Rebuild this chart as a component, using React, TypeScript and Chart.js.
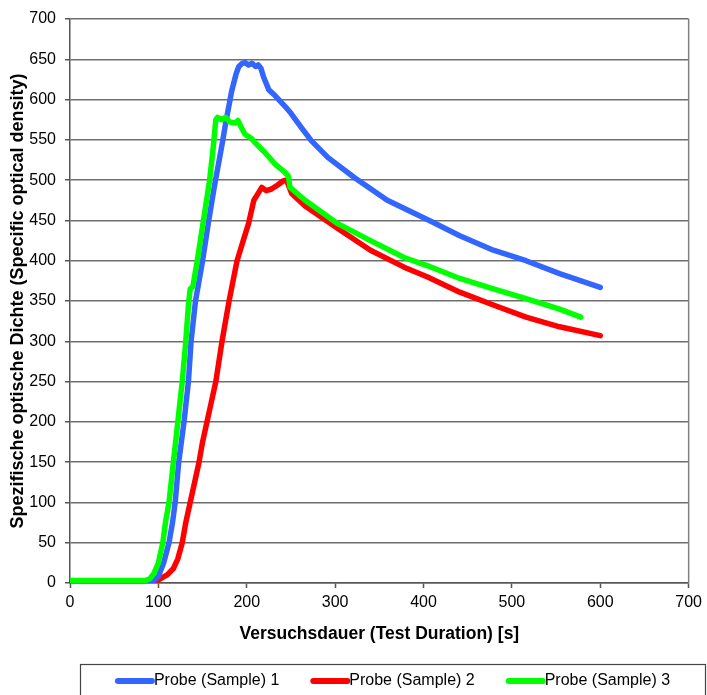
import React, { useEffect, useRef } from "react";
import { Chart, registerables } from "chart.js";

Chart.register(...registerables);

const FONT = "'Liberation Sans', Arial, Helvetica, sans-serif";

// Series labels
const seriesLabels = ["Probe (Sample) 1", "Probe (Sample) 2", "Probe (Sample) 3"];
const seriesColors = ["#3366FF", "#FF0000", "#00FF00"];

// Probe (Sample) 1
const s1Time = [0, 30, 60, 90, 95, 100, 106, 112, 116, 119, 123, 129, 134, 137, 142, 150, 157, 163, 168, 173, 176, 183, 188, 191, 195, 198, 202, 206, 210, 213, 216, 219, 225, 232, 243, 250, 262, 273, 292, 322, 359, 410, 441, 479, 516, 554, 600];
const s1Value = [2, 2, 2, 2, 3, 8, 25, 50, 75, 100, 150, 200, 250, 300, 350, 400, 450, 490, 520, 550, 570, 611, 632, 641, 645, 646, 643, 645, 641, 643, 639, 628, 612, 605, 592, 583, 565, 549, 528, 503, 475, 448, 431, 413, 400, 384, 367];

// Probe (Sample) 2
const s2Time = [0, 30, 60, 90, 96, 102, 110, 117, 122, 127, 131, 136, 141, 146, 150, 155, 160, 165, 172, 180, 189, 196, 202, 208, 212, 217, 222, 228, 235, 241, 245, 251, 266, 303, 340, 378, 404, 441, 479, 516, 554, 600];
const s2Value = [2, 2, 2, 1, 2, 5, 10, 18, 30, 50, 75, 100, 125, 150, 175, 200, 225, 250, 300, 350, 400, 425, 446, 475, 482, 491, 487, 489, 494, 499, 500, 483, 468, 440, 413, 392, 380, 361, 345, 330, 318, 307];

// Probe (Sample) 3
const s3Time = [0, 30, 60, 85, 90, 95, 100, 105, 108, 112, 117, 122, 127, 131, 134, 136, 139, 144, 151, 158, 162, 165, 167, 172, 176, 181, 187, 190, 194, 198, 205, 210, 220, 232, 243, 247, 249, 266, 303, 340, 378, 404, 441, 479, 516, 554, 578];
const s3Value = [3, 3, 3, 3, 5, 12, 25, 50, 75, 100, 150, 200, 250, 300, 345, 365, 368, 400, 450, 500, 540, 575, 578, 575, 578, 572, 571, 574, 565, 557, 552, 546, 535, 520, 510, 505, 491, 475, 446, 425, 404, 394, 378, 365, 353, 340, 330];

// Axes
const xMin = 0;
const xMax = 700;
const xStep = 100;
const yMin = 0;
const yMax = 700;
const yStep = 50;
const xTitle = "Versuchsdauer (Test Duration) [s]";
const yTitle = "Spezifische optische Dichte (Specific optical density)";

const toPoints = (t: number[], v: number[]) => t.map((x, i) => ({ x, y: v[i] }));

export default function App() {
  const ref = useRef<HTMLCanvasElement>(null);

  useEffect(() => {
    if (!ref.current) return;

    const framePlugin = {
      id: "frameRight",
      beforeDatasetsDraw(chart: any) {
        const { ctx, chartArea } = chart;
        ctx.save();
        ctx.strokeStyle = "#808080";
        ctx.lineWidth = 1.5;
        ctx.beginPath();
        ctx.moveTo(chartArea.right, chartArea.top);
        ctx.lineTo(chartArea.right, chartArea.bottom);
        ctx.stroke();
        ctx.restore();
      },
    };

    const legendPlugin = {
      id: "boxLegend",
      afterDraw(chart: any) {
        const c = chart.ctx as CanvasRenderingContext2D;
        c.save();
        const boxL = 80;
        const boxT = 664;
        const boxR = 705;
        const boxB = 720;
        c.strokeStyle = "#444";
        c.lineWidth = 1.2;
        c.strokeRect(boxL + 0.5, boxT + 0.5, boxR - boxL, boxB - boxT);
        c.font = `16px ${FONT}`;
        const lineLen = 39;
        const gap = 31;
        const items = chart.data.datasets.map((ds: any) => ({
          label: ds.label as string,
          color: ds.borderColor as string,
          w: lineLen + c.measureText(ds.label).width,
        }));
        const total = items.reduce((a: number, it: any) => a + it.w, 0) + gap * (items.length - 1);
        let x = (boxL + boxR) / 2 - total / 2;
        const y = 681;
        for (const it of items) {
          c.strokeStyle = it.color;
          c.lineWidth = 6;
          c.lineCap = "round";
          c.beginPath();
          c.moveTo(x + 3, y);
          c.lineTo(x + lineLen - 2, y);
          c.stroke();
          c.fillStyle = "#000";
          c.textAlign = "left";
          c.textBaseline = "middle";
          c.fillText(it.label, x + lineLen, y);
          x += it.w + gap;
        }
        c.restore();
      },
    };

    const mk = (i: number, t: number[], v: number[], order: number) => ({
      label: seriesLabels[i],
      data: toPoints(t, v),
      borderColor: seriesColors[i],
      backgroundColor: seriesColors[i],
      borderWidth: 5.5,
      pointRadius: 0,
      tension: 0,
      fill: false,
      borderCapStyle: "round" as const,
      borderJoinStyle: "round" as const,
      order,
    });

    const chart = new Chart(ref.current, {
      type: "line",
      data: {
        datasets: [
          mk(0, s1Time, s1Value, 2),
          mk(1, s2Time, s2Value, 3),
          mk(2, s3Time, s3Value, 1),
        ],
      },
      options: {
        responsive: false,
        animation: false,
        layout: { padding: { top: 19, right: 13, bottom: 0, left: 0 } },
        plugins: {
          legend: { display: false },
          tooltip: { enabled: false },
        },
        scales: {
          x: {
            type: "linear",
            min: xMin,
            max: xMax,
            ticks: {
              stepSize: xStep,
              color: "#000",
              font: { size: 16, family: FONT },
              padding: 5,
              maxRotation: 0,
            },
            grid: {
              drawOnChartArea: false,
              drawTicks: true,
              tickLength: 5,
              tickColor: "#555",
              tickWidth: 1.5,
            },
            border: { display: true, color: "#555", width: 1.5 },
            title: {
              display: true,
              text: xTitle,
              color: "#000",
              font: { size: 17.5, weight: "bold", family: FONT },
              padding: { top: 4, bottom: 50 },
            },
            afterFit: (s: any) => {
              s.height = 112;
            },
          },
          y: {
            type: "linear",
            min: yMin,
            max: yMax,
            ticks: {
              stepSize: yStep,
              color: "#000",
              font: { size: 16, family: FONT },
              padding: 9,
            },
            grid: {
              color: "#6e6e6e",
              lineWidth: 1.5,
              drawTicks: true,
              tickLength: 5,
              tickColor: "#555",
            },
            border: { display: true, color: "#555", width: 1.5 },
            title: {
              display: true,
              text: yTitle,
              color: "#000",
              font: { size: 18, weight: "bold", family: FONT },
              padding: { top: 7, bottom: 0 },
            },
            afterFit: (s: any) => {
              s.width = 70;
            },
          },
        },
      } as any,
      plugins: [framePlugin, legendPlugin],
    });

    return () => chart.destroy();
  }, []);

  return (
    <div style={{ position: "absolute", left: 0, top: 0, width: 707, height: 695, background: "#fff" }}>
      <canvas ref={ref} width={707} height={695} style={{ display: "block" }} />
    </div>
  );
}
